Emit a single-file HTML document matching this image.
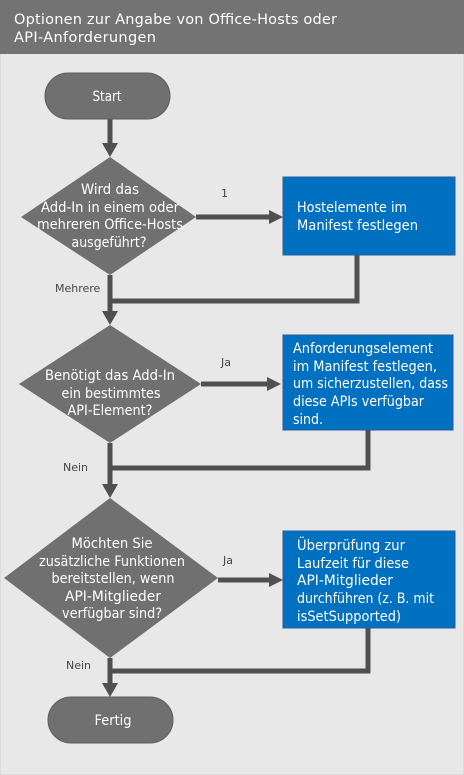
<!DOCTYPE html>
<html><head><meta charset="utf-8"><style>
html,body{margin:0;padding:0;background:#fff}
svg{display:block}
text{font-family:"DejaVu Sans","Liberation Sans",sans-serif}
.w{fill:#fff;font-size:14px}
.b{fill:#fff;font-size:14px}
.l{fill:#444;font-size:11px}
</style></head><body>
<svg width="464" height="775" viewBox="0 0 464 775" xmlns="http://www.w3.org/2000/svg">
<rect x="0" y="0" width="464" height="775" fill="#e8e8e8" stroke="#d0d0d0"/>
<rect x="0" y="0" width="464" height="54" fill="#737373"/>
<text x="14" y="24" fill="#fff" style="font-size:14.5px" textLength="323">Optionen zur Angabe von Office-Hosts oder</text>
<text x="14" y="42" fill="#fff" style="font-size:14.5px" textLength="142">API-Anforderungen</text>

<g fill="none" stroke="#505050" stroke-width="5">
<line x1="110" y1="119" x2="110" y2="145"/>
<line x1="196" y1="217" x2="270" y2="217"/>
<polyline points="357,255 357,301 110,301"/>
<line x1="110" y1="275" x2="110" y2="313"/>
<line x1="201" y1="384" x2="268" y2="384"/>
<polyline points="368,430 368,468 110,468"/>
<line x1="110" y1="443" x2="110" y2="486"/>
<line x1="218" y1="580" x2="270" y2="580"/>
<polyline points="368,628 368,671 110,671"/>
<line x1="110" y1="658" x2="110" y2="685"/>
</g>
<g fill="#505050">
<polygon points="102,143 118,143 110,157"/>
<polygon points="269,210 269,224 283,217"/>
<polygon points="102,311 118,311 110,325"/>
<polygon points="267,377 267,391 281,384"/>
<polygon points="102,484 118,484 110,498"/>
<polygon points="269,573 269,587 283,580"/>
<polygon points="102,683 118,683 110,697"/>
</g>

<rect x="45" y="73" width="125" height="46" rx="23" fill="#707070" stroke="#5e5e5e"/>
<text x="107" y="101" class="w" text-anchor="middle" textLength="29" lengthAdjust="spacingAndGlyphs">Start</text>

<polygon points="110,157 196,217 110,275 21,217" fill="#707070"/>
<text x="110" y="194" class="w" text-anchor="middle" textLength="58" lengthAdjust="spacingAndGlyphs">Wird das</text>
<text x="110" y="212" class="w" text-anchor="middle" textLength="138" lengthAdjust="spacingAndGlyphs">Add-In in einem oder</text>
<text x="110" y="229" class="w" text-anchor="middle" textLength="146" lengthAdjust="spacingAndGlyphs">mehreren Office-Hosts</text>
<text x="109" y="247" class="w" text-anchor="middle" textLength="75" lengthAdjust="spacingAndGlyphs">ausgeführt?</text>
<text x="221" y="197" class="l">1</text>
<rect x="283" y="177" width="172" height="78" fill="#0070c0" stroke="#2a5d9a"/>
<text x="297" y="212" class="b" textLength="110" lengthAdjust="spacingAndGlyphs">Hostelemente im</text>
<text x="297" y="230" class="b" textLength="121" lengthAdjust="spacingAndGlyphs">Manifest festlegen</text>
<text x="55" y="292" class="l">Mehrere</text>

<polygon points="110,325 201,384 110,443 19,384" fill="#707070"/>
<text x="110" y="380" class="w" text-anchor="middle" textLength="130" lengthAdjust="spacingAndGlyphs">Benötigt das Add-In</text>
<text x="111" y="398" class="w" text-anchor="middle" textLength="99" lengthAdjust="spacingAndGlyphs">ein bestimmtes</text>
<text x="110" y="415" class="w" text-anchor="middle" textLength="85" lengthAdjust="spacingAndGlyphs">API-Element?</text>
<text x="221" y="366" class="l">Ja</text>
<rect x="283" y="335" width="170" height="95" fill="#0070c0" stroke="#2a5d9a"/>
<text x="293" y="353" class="b" textLength="140" lengthAdjust="spacingAndGlyphs">Anforderungselement</text>
<text x="293" y="371" class="b" textLength="144" lengthAdjust="spacingAndGlyphs">im Manifest festlegen,</text>
<text x="293" y="388" class="b" textLength="155" lengthAdjust="spacingAndGlyphs">um sicherzustellen, dass</text>
<text x="293" y="406" class="b" textLength="131" lengthAdjust="spacingAndGlyphs">diese APIs verfügbar</text>
<text x="293" y="424" class="b" textLength="30" lengthAdjust="spacingAndGlyphs">sind.</text>
<text x="63" y="471" class="l">Nein</text>

<polygon points="110,498 218,578 110,658 4,578" fill="#707070"/>
<text x="112" y="548" class="w" text-anchor="middle" textLength="81" lengthAdjust="spacingAndGlyphs">Möchten Sie</text>
<text x="112" y="566" class="w" text-anchor="middle" textLength="146" lengthAdjust="spacingAndGlyphs">zusätzliche Funktionen</text>
<text x="113" y="583" class="w" text-anchor="middle" textLength="123" lengthAdjust="spacingAndGlyphs">bereitstellen, wenn</text>
<text x="113" y="601" class="w" text-anchor="middle" textLength="96" lengthAdjust="spacingAndGlyphs">API-Mitglieder</text>
<text x="112" y="618" class="w" text-anchor="middle" textLength="100" lengthAdjust="spacingAndGlyphs">verfügbar sind?</text>
<text x="223" y="564" class="l">Ja</text>
<rect x="283" y="531" width="172" height="97" fill="#0070c0" stroke="#2a5d9a"/>
<text x="297" y="550" class="b" textLength="108" lengthAdjust="spacingAndGlyphs">Überprüfung zur</text>
<text x="297" y="568" class="b" textLength="112" lengthAdjust="spacingAndGlyphs">Laufzeit für diese</text>
<text x="297" y="585" class="b" textLength="96" lengthAdjust="spacingAndGlyphs">API-Mitglieder</text>
<text x="297" y="603" class="b" textLength="137" lengthAdjust="spacingAndGlyphs">durchführen (z. B. mit</text>
<text x="297" y="621" class="b" textLength="104" lengthAdjust="spacingAndGlyphs">isSetSupported)</text>
<text x="66" y="669" class="l">Nein</text>

<rect x="48" y="697" width="125" height="46" rx="23" fill="#707070" stroke="#5e5e5e"/>
<text x="113" y="725" class="w" text-anchor="middle" textLength="37" lengthAdjust="spacingAndGlyphs">Fertig</text>
</svg>
</body></html>
